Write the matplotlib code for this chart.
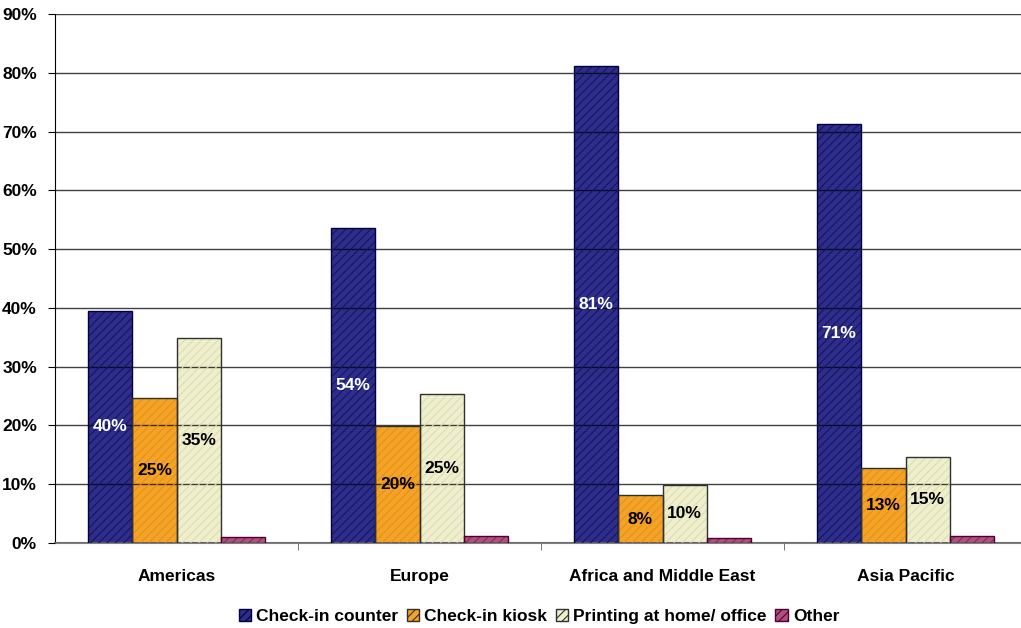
import numpy as np
import matplotlib.pyplot as plt
from matplotlib.patches import Patch

regions = ["Americas", "Europe", "Africa and Middle East", "Asia Pacific"]
series = ["Check-in counter", "Check-in kiosk", "Printing at home/ office", "Other"]
counter = [39.5, 53.6, 81.2, 71.3]
kiosk = [24.6, 19.9, 8.1, 12.7]
home = [34.8, 25.3, 9.9, 14.7]
other = [1.0, 1.2, 0.8, 1.2]
yticks = [0, 10, 20, 30, 40, 50, 60, 70, 80, 90]

values = [counter, kiosk, home, other]
faces = ["#2E2E8A", "#F5A327", "#EFEFCC", "#B0507E"]
hatch_cols = ["#141466", "#E3921A", "#DCDCB8", "#8A2A5A"]
edges = ["#000040", "#303030", "#303030", "#500030"]
label_cols = ["white", "black", "black", None]

plt.rcParams['font.family'] = ['Liberation Sans', 'DejaVu Sans']
plt.rcParams['hatch.linewidth'] = 0.8

fig = plt.figure(figsize=(10.21, 6.28), dpi=100)
ax = fig.add_axes([55/1021, 85/628, 972/1021, 529/628])

x = np.arange(len(regions))
w = 0.182
offsets = (np.arange(4) - 1.5) * w

for i, vals in enumerate(values):
  pos = x + offsets[i]
  ax.bar(pos, vals, w, color=faces[i], linewidth=0, zorder=2)
  ax.bar(pos, vals, w, facecolor="none", edgecolor=hatch_cols[i], hatch="////", linewidth=0, zorder=3)
  ax.bar(pos, vals, w, facecolor="none", edgecolor=edges[i], linewidth=1.0, zorder=4)
  if label_cols[i]:
    for p, v in zip(pos, vals):
      ax.text(p, v / 2, "{:.0f}%".format(v), ha="center", va="center",
              color=label_cols[i], fontsize=12.5, fontweight="bold", zorder=6)

handles = [Patch(facecolor=faces[i], edgecolor=edges[i], hatch="////", label=series[i]) for i in range(4)]
ax.legend(handles=handles, loc="upper center", bbox_to_anchor=(484/972, -0.095), ncol=4,
          frameon=False, prop={'weight': 'bold', 'size': 12.5},
          handlelength=0.7, handleheight=0.7, handletextpad=0.3, columnspacing=0.5)

ax.set_ylim(0, 90)
ax.set_xlim(-0.5, 3.5)
ax.set_yticks(yticks)
ax.set_yticklabels(["{}%".format(t) for t in yticks], fontsize=12.5, fontweight="bold")
ax.yaxis.grid(True, color="black", linewidth=1.0, alpha=0.75, zorder=5)
ax.set_axisbelow(False)

ax.set_xticks(x)
ax.set_xticklabels(regions, fontsize=12.5, fontweight="bold")
ax.tick_params(axis="x", length=0, pad=19)
ax.set_xticks([0.5, 1.5, 2.5], minor=True)
ax.tick_params(axis="x", which="minor", length=5, color="#606060")
ax.tick_params(axis="y", length=5, pad=8)

for s in ["top", "right"]:
  ax.spines[s].set_visible(False)
ax.spines["bottom"].set_color("#808080")
ax.spines["bottom"].set_linewidth(1.5)

fig.savefig("out.png", dpi=100)
